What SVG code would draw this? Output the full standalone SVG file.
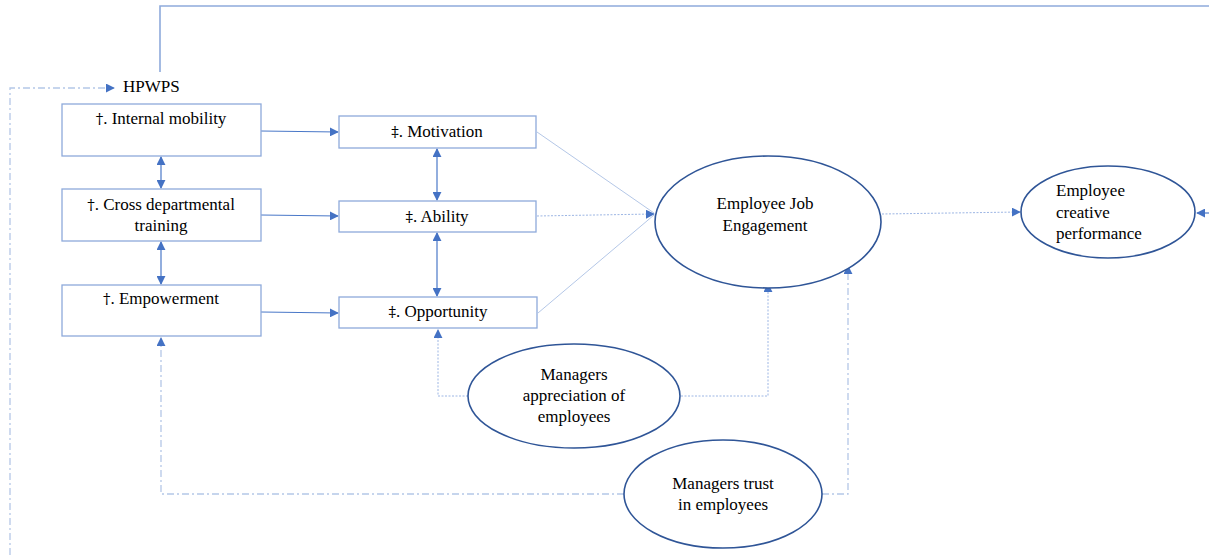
<svg xmlns="http://www.w3.org/2000/svg" width="1209" height="560" viewBox="0 0 1209 560">
  <style>
    .box { fill: #ffffff; stroke: #8eaadb; stroke-width: 1.3; }
    .oval { fill: #ffffff; stroke: #2f5597; stroke-width: 1.6; }
    .lbl { font-family: "Liberation Serif", "Times New Roman", serif; font-size: 17px; fill: #000000; }
    .sym { font-family: "DejaVu Serif", "Liberation Serif", serif; font-size: 15px; fill: #000000; }
    .mid { text-anchor: middle; }
    .solid { fill: none; stroke: #4a78c8; stroke-width: 1.2; }
    .faint { fill: none; stroke: #b4c7e7; stroke-width: 1; }
    .dotted { fill: none; stroke: #9db6e4; stroke-width: 1; stroke-dasharray: 2 1.5; }
    .dashdot { fill: none; stroke: #b4c7e7; stroke-width: 1.3; stroke-dasharray: 7 3 2 3; }
    .top { fill: none; stroke: #8eaadb; stroke-width: 1.6; }
  </style>
  <defs>
    <marker id="ah" viewBox="0 0 10 10" refX="9" refY="5" markerWidth="9" markerHeight="9" markerUnits="userSpaceOnUse" orient="auto-start-reverse">
      <path d="M0,0 L10,5 L0,10 z" fill="#4472c4"/>
    </marker>
  </defs>

  <!-- connectors -->
  <g id="connectors">
    <!-- feedback from the right edge over the top to HPWPS -->
    <polyline class="top" points="160,72 160,6 1209,6"/>
    <!-- dash-dot loop on the far left into HPWPS -->
    <polyline class="dashdot" points="10,555 10,88 114,88" marker-end="url(#ah)"/>

    <!-- HR practices into AMO -->
    <line class="solid" x1="261" y1="131" x2="338" y2="132" marker-end="url(#ah)"/>
    <line class="solid" x1="261" y1="215" x2="338" y2="216" marker-end="url(#ah)"/>
    <line class="solid" x1="261" y1="312" x2="338" y2="313" marker-end="url(#ah)"/>

    <!-- correlations between HR practices -->
    <line class="solid" x1="161" y1="157" x2="161" y2="188" marker-start="url(#ah)" marker-end="url(#ah)"/>
    <line class="solid" x1="161" y1="242" x2="161" y2="284" marker-start="url(#ah)" marker-end="url(#ah)"/>

    <!-- correlations between AMO -->
    <line class="solid" x1="437" y1="149" x2="437" y2="200" marker-start="url(#ah)" marker-end="url(#ah)"/>
    <line class="solid" x1="437" y1="233" x2="437" y2="296" marker-start="url(#ah)" marker-end="url(#ah)"/>

    <!-- AMO into job engagement -->
    <line class="faint" x1="537" y1="132" x2="654" y2="213"/>
    <line class="dotted" x1="537" y1="216" x2="654" y2="214" marker-end="url(#ah)"/>
    <line class="faint" x1="538" y1="313" x2="654" y2="215"/>

    <!-- job engagement into creative performance -->
    <line class="dotted" x1="882" y1="214" x2="1020" y2="212" marker-end="url(#ah)"/>
    <!-- incoming from the right edge -->
    <line class="solid" x1="1209" y1="213" x2="1197" y2="213" marker-end="url(#ah)"/>

    <!-- managers appreciation moderating paths -->
    <polyline class="dotted" points="468,396 438,396 438,330" marker-end="url(#ah)"/>
    <polyline class="dotted" points="681,396 768,396 768,284" marker-end="url(#ah)"/>

    <!-- managers trust moderating paths -->
    <polyline class="dashdot" points="624,494 161,494 161,338" marker-end="url(#ah)"/>
    <polyline class="dashdot" points="822,494 848,494 848,266" marker-end="url(#ah)"/>
  </g>

  <!-- HPWPS heading -->
  <g id="hpwps">
    <text class="lbl" x="123" y="92">HPWPS</text>
  </g>

  <!-- HR practices -->
  <g id="internal-mobility">
    <rect class="box" x="62" y="104" width="199" height="52"/>
    <text class="lbl mid" x="161" y="124"><tspan class="sym">†</tspan>. Internal mobility</text>
  </g>
  <g id="cross-training">
    <rect class="box" x="62" y="189" width="199" height="52"/>
    <text class="lbl mid" x="161" y="210"><tspan class="sym">†</tspan>. Cross departmental</text>
    <text class="lbl mid" x="161" y="231">training</text>
  </g>
  <g id="empowerment">
    <rect class="box" x="62" y="285" width="199" height="51"/>
    <text class="lbl mid" x="161" y="304"><tspan class="sym">†</tspan>. Empowerment</text>
  </g>

  <!-- AMO -->
  <g id="motivation">
    <rect class="box" x="339" y="116" width="197" height="32"/>
    <text class="lbl mid" x="437" y="137"><tspan class="sym">‡</tspan>. Motivation</text>
  </g>
  <g id="ability">
    <rect class="box" x="339" y="201" width="197" height="31"/>
    <text class="lbl mid" x="437" y="222"><tspan class="sym">‡</tspan>. Ability</text>
  </g>
  <g id="opportunity">
    <rect class="box" x="339" y="297" width="198" height="31"/>
    <text class="lbl mid" x="438" y="317"><tspan class="sym">‡</tspan>. Opportunity</text>
  </g>

  <!-- outcomes -->
  <g id="job-engagement">
    <ellipse class="oval" cx="768" cy="222" rx="113" ry="66"/>
    <text class="lbl mid" x="765" y="209">Employee Job</text>
    <text class="lbl mid" x="765" y="231">Engagement</text>
  </g>
  <g id="creative-performance">
    <ellipse class="oval" cx="1108" cy="212" rx="87" ry="46"/>
    <text class="lbl" x="1056" y="196">Employee</text>
    <text class="lbl" x="1056" y="218">creative</text>
    <text class="lbl" x="1056" y="239">performance</text>
  </g>

  <!-- moderators -->
  <g id="managers-appreciation">
    <ellipse class="oval" cx="574" cy="396" rx="106" ry="52"/>
    <text class="lbl mid" x="574" y="380">Managers</text>
    <text class="lbl mid" x="574" y="401">appreciation of</text>
    <text class="lbl mid" x="574" y="422">employees</text>
  </g>
  <g id="managers-trust">
    <ellipse class="oval" cx="723" cy="494" rx="99" ry="54"/>
    <text class="lbl mid" x="723" y="489">Managers trust</text>
    <text class="lbl mid" x="723" y="510">in employees</text>
  </g>
</svg>
